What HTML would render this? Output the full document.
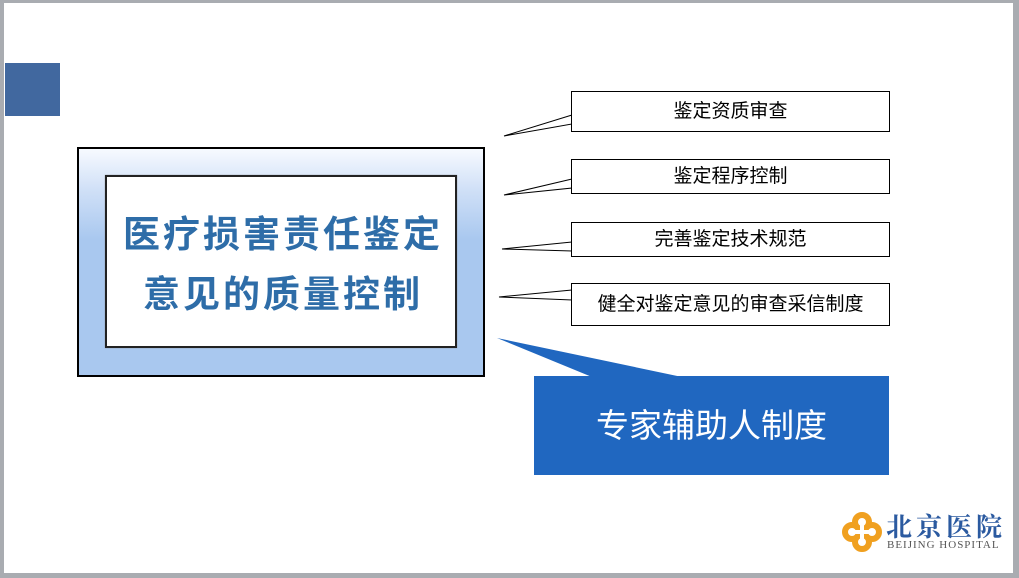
<!DOCTYPE html>
<html><head><meta charset="utf-8"><style>
body{margin:0;width:1019px;height:578px;overflow:hidden;background:#a9acb1;position:relative;font-family:"Liberation Sans","Noto Sans CJK SC",sans-serif}
.slide{position:absolute;left:4px;top:3px;width:1009px;height:570px;background:#fff}
.abs{position:absolute}
.cb{position:absolute;left:571px;width:319px;border:1px solid #000;background:#fff;display:flex;align-items:center;justify-content:center;font-size:19px;color:#000;padding-bottom:4px;box-sizing:border-box}
</style></head><body>
<div class="slide"></div>
<div class="abs" style="left:5px;top:63px;width:55px;height:53px;background:#41689f"></div>
<div class="abs" style="left:77px;top:147px;width:404px;height:226px;border:2px solid #000;background:linear-gradient(#f7faff 0%,#d0e0f7 18%,#a9c8ef 40%,#a9c8ef 100%)"></div>
<div class="abs" style="left:105px;top:175px;width:348px;height:169px;border:2px solid #222;background:#fff;box-shadow:0 0 1px #888"></div>
<div class="abs" style="left:105px;top:205px;width:356px;text-align:center;font-size:37px;font-weight:bold;color:#2e6da8;line-height:60px;letter-spacing:3px">医疗损害责任鉴定<br>意见的质量控制</div>
<svg class="abs" style="left:0;top:0" width="1019" height="578">
<g fill="#fff" stroke="#000" stroke-width="1">
<polygon points="572,115 504,136 572,124"/>
<polygon points="572,179 504,195 572,188"/>
<polygon points="572,242 502,249 572,251"/>
<polygon points="572,290 499,297 572,300"/>
</g>
<polygon points="592,377 497,338 682,377" fill="#2067c0"/>
</svg>
<div class="cb" style="top:91px;height:41px">鉴定资质审查</div>
<div class="cb" style="top:159px;height:35px">鉴定程序控制</div>
<div class="cb" style="top:222px;height:35px">完善鉴定技术规范</div>
<div class="cb" style="top:283px;height:43px">健全对鉴定意见的审查采信制度</div>
<div class="abs" style="left:534px;top:376px;width:355px;height:99px;background:#2067c0;color:#fff;font-size:33px;display:flex;align-items:center;justify-content:center;padding-bottom:6px;box-sizing:border-box">专家辅助人制度</div>
<svg class="abs" style="left:842px;top:512px" width="40" height="40" viewBox="0 0 40 40">
<g fill="none" stroke="#f0a020" stroke-width="6">
<circle cx="20" cy="10" r="7"/><circle cx="20" cy="30" r="7"/><circle cx="10" cy="20" r="7"/><circle cx="30" cy="20" r="7"/>
</g>
<path d="M20 8v24M8 20h24" stroke="#fff" stroke-width="4"/>
</svg>
<div class="abs" style="left:886px;top:507px;font-size:26px;color:#2b5aa0;font-family:'Noto Serif CJK SC',serif;letter-spacing:4px;font-weight:bold">北京医院</div>
<div class="abs" style="left:887px;top:539px;font-size:11px;color:#555;font-family:'Liberation Serif',serif;letter-spacing:1px">BEIJING HOSPITAL</div>
</body></html>
